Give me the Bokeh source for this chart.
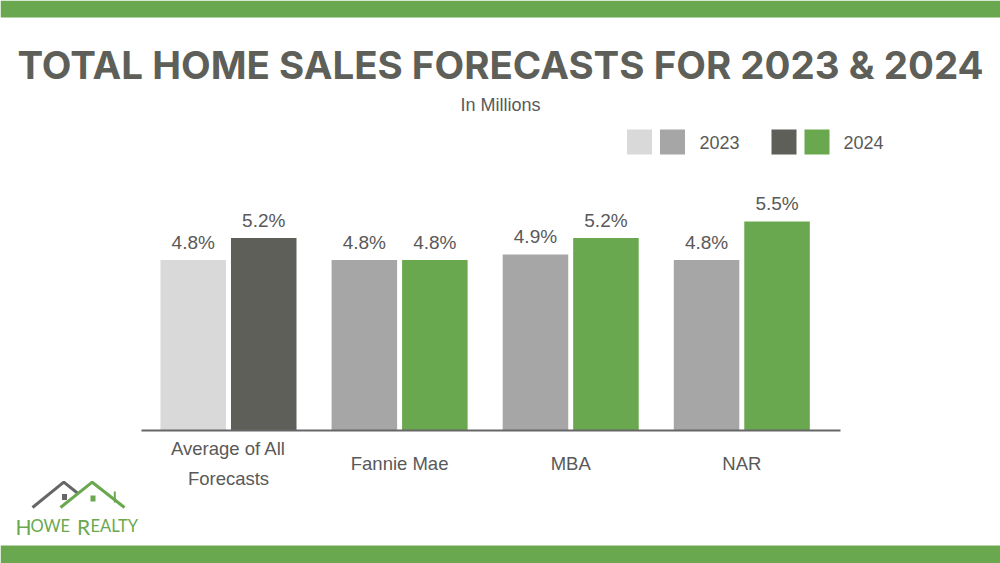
from bokeh.plotting import figure
from bokeh.models import Range1d, LinearAxis, FixedTicker
from bokeh.core.properties import value
from bokeh.embed import file_html
from bokeh.resources import INLINE

# ---------------- data ----------------
categories = ["Average of All\nForecasts", "Fannie Mae", "MBA", "NAR"]
years = ["2023", "2024"]
sales_2023 = [4.8, 4.8, 4.9, 4.8]
sales_2024 = [5.2, 4.8, 5.2, 5.5]
colors_2023 = ["#d9d9d9", "#a6a6a6", "#a6a6a6", "#a6a6a6"]
colors_2024 = ["#5e5f59", "#6aa84f", "#6aa84f", "#6aa84f"]
title_text = "TOTAL HOME SALES FORECASTS FOR 2023 & 2024"
subtitle_text = "In Millions"

# ---------------- layout constants ----------------
W, H = 1000, 563
BASE_PX = 430          # baseline, px from top
Y_FLOOR = 1.7          # value at the baseline
PX_PER_UNIT = 55.0
GROUP_PX = 171.1
X0_PX = 228.0
BAR_W = 0.383
OFF = 0.206

x_start = -X0_PX / GROUP_PX
x_end = x_start + W / GROUP_PX
y_end = Y_FLOOR + BASE_PX / PX_PER_UNIT
y_start = y_end - H / PX_PER_UNIT


def px_x(px):
    return x_start + px / GROUP_PX


def px_y(py):
    return y_end - py / PX_PER_UNIT


TEXT = "#595959"
GREEN = "#6aa84f"
DARK = "#5e5f59"

p = figure(width=W, height=H, x_range=Range1d(x_start, x_end), y_range=Range1d(y_start, y_end),
           output_backend="svg", toolbar_location=None, min_border=0,
           x_axis_location=None, y_axis_location=None, outline_line_color=None,
           background_fill_color="white", border_fill_color="white")
p.xgrid.grid_line_color = None
p.ygrid.grid_line_color = None

# decorative bands
p.quad(left=[x_start], right=[x_end], top=[y_end], bottom=[px_y(17)], color=GREEN, line_color=None)
p.quad(left=[x_start], right=[x_end], top=[px_y(545)], bottom=[y_start], color=GREEN, line_color=None)

# bars
idx = list(range(len(categories)))
x23 = [i - OFF for i in idx]
x24 = [i + OFF for i in idx]
p.vbar(x=x23, top=sales_2023, bottom=Y_FLOOR, width=BAR_W, fill_color=colors_2023, line_color=None)
p.vbar(x=x24, top=sales_2024, bottom=Y_FLOOR, width=BAR_W, fill_color=colors_2024, line_color=None)

# value labels
lab_off = 18 / PX_PER_UNIT
p.text(x=x23, y=[v + lab_off for v in sales_2023], text=[f"{v:.1f}%" for v in sales_2023],
       text_align="center", text_baseline="middle", text_font=value("Liberation Sans"),
       text_font_size="19px", text_color=TEXT)
p.text(x=x24, y=[v + lab_off for v in sales_2024], text=[f"{v:.1f}%" for v in sales_2024],
       text_align="center", text_baseline="middle", text_font=value("Liberation Sans"),
       text_font_size="19px", text_color=TEXT)

# baseline axis
axis = LinearAxis(fixed_location=Y_FLOOR, bounds=(px_x(141), px_x(840)), ticker=FixedTicker(ticks=[]),
                  axis_line_color="#666666", axis_line_width=2,
                  major_tick_line_color=None, minor_tick_line_color=None,
                  major_label_text_font_size="0px")
p.add_layout(axis, "below")

# category labels
p.text(x=idx, y=[px_y(463)] * len(idx), text=categories, text_align="center", text_baseline="middle",
       text_font=value("Liberation Sans"), text_font_size="18.5px", text_color=TEXT, text_line_height=1.42)

# title & subtitle
p.text(x=[px_x(500)], y=[px_y(64)], text=[title_text], text_align="center", text_baseline="middle",
       text_font=value("Inter"), text_font_style="bold", text_font_size="38.5px", text_color=DARK)
p.text(x=[px_x(500)], y=[px_y(104)], text=[subtitle_text], text_align="center", text_baseline="middle",
       text_font=value("Liberation Sans"), text_font_size="18px", text_color=TEXT)

# legend (two swatches per year)
sw_y = px_y(141.5)
p.rect(x=[px_x(639), px_x(672)], y=[sw_y, sw_y], width=25, height=25, width_units="screen",
       height_units="screen", fill_color=[colors_2023[0], colors_2023[1]], line_color=None)
p.rect(x=[px_x(783.5), px_x(816.5)], y=[sw_y, sw_y], width=25, height=25, width_units="screen",
       height_units="screen", fill_color=[colors_2024[0], colors_2024[1]], line_color=None)
p.text(x=[px_x(699), px_x(843)], y=[px_y(142)] * 2, text=years, text_align="left", text_baseline="middle",
       text_font=value("Liberation Sans"), text_font_size="18px", text_color=TEXT)

# logo
p.line(x=[px_x(32), px_x(63.3), px_x(77.5)], y=[px_y(507), px_y(481.7), px_y(493)],
       line_color="#666666", line_width=3)
p.line(x=[px_x(60), px_x(91.7), px_x(124)], y=[px_y(507), px_y(481.7), px_y(507)],
       line_color=GREEN, line_width=3)
p.line(x=[px_x(114.3), px_x(114.3)], y=[px_y(491), px_y(502)], line_color=GREEN, line_width=2)
p.rect(x=[px_x(64)], y=[px_y(496.5)], width=5, height=6, width_units="screen", height_units="screen",
       fill_color="#666666", line_color=None)
p.rect(x=[px_x(92.5)], y=[px_y(498)], width=5, height=6, width_units="screen", height_units="screen",
       fill_color=GREEN, line_color=None)
p.text(x=[px_x(15)], y=[px_y(525.5)], text=["H"], text_baseline="alphabetic", text_font=value("Lato"),
       text_font_size="21px", text_color=GREEN)
p.text(x=[px_x(30), px_x(90)], y=[px_y(525.5)] * 2, text=["OWE", "EALTY"], text_baseline="alphabetic",
       text_font=value("Lato"), text_font_size="16.5px", text_color=GREEN)
p.text(x=[px_x(76.5)], y=[px_y(525.5)], text=["R"], text_baseline="alphabetic", text_font=value("Lato"),
       text_font_size="21px", text_color=GREEN)

open("out.html", "w").write(file_html(p, INLINE))
